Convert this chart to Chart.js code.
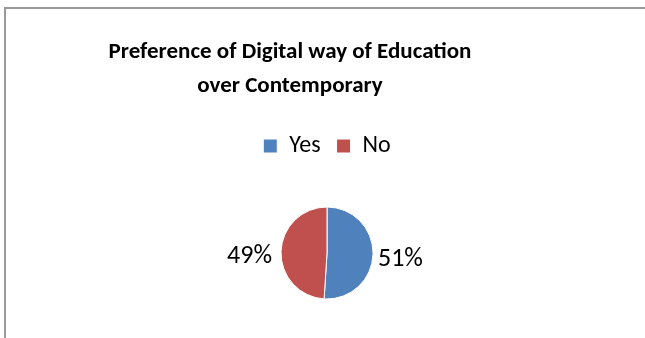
<!DOCTYPE html>
<html>
<head>
<meta charset="utf-8">
<script src="https://cdn.jsdelivr.net/npm/chart.js@4/dist/chart.umd.min.js"></script>
<style>
	html, body { margin: 0; padding: 0; background: #fff; overflow: hidden; }
	#wrap { position: relative; width: 645px; height: 338px; }
	#frame {
		position: absolute; left: 4px; top: 7px; width: 700px; height: 400px;
		border-left: 2px solid #999; border-top: 2px solid #999;
	}
	#chart { position: absolute; left: 0; top: 0; }
</style>
</head>
<body>
<div id="wrap">
	<div id="frame"></div>
	<canvas id="chart" width="645" height="338"></canvas>
</div>
<script>
const TITLE_LINES = ['Preference of Digital way of Education', 'over Contemporary']
const LABELS = ['Yes', 'No']
const SHARES = [51, 49]
const COLORS = ['#4F81BD', '#C0504D']

const FONT = 'Carlito, Lato, "Open Sans", sans-serif'

// heading sits a bit left of the plot centre, so it is drawn by hand
const heading = {
	id: 'heading',
	afterDraw: (chart) => {
		const ctx = chart.ctx
		ctx.save()
		ctx.font = 'bold 23px ' + FONT
		ctx.fillStyle = '#000'
		ctx.textAlign = 'center'
		ctx.textBaseline = 'middle'
		TITLE_LINES.forEach((line, i) => ctx.fillText(line, 290, 52 + i * 34))
		ctx.restore()
	},
}

// percentage labels just outside each slice
const sliceLabels = {
	id: 'sliceLabels',
	afterDatasetsDraw: (chart) => {
		const ctx = chart.ctx
		const meta = chart.getDatasetMeta(0)
		const data = chart.data.datasets[0].data
		ctx.save()
		ctx.font = '26px ' + FONT
		ctx.fillStyle = '#000'
		ctx.textBaseline = 'middle'
		meta.data.forEach((arc, i) => {
			const { x, y, startAngle, endAngle, outerRadius } = arc.getProps(['x', 'y', 'startAngle', 'endAngle', 'outerRadius'], true)
			const mid = (startAngle + endAngle) / 2
			const cos = Math.cos(mid)
			const r = outerRadius + (cos >= 0 ? 5 : 9)
			ctx.textAlign = cos >= 0 ? 'left' : 'right'
			ctx.fillText(data[i] + '%', x + cos * r, y + Math.sin(mid) * r + 5)
		})
		ctx.restore()
	},
}

const chart = new Chart(document.getElementById('chart'), {
	type: 'pie',
	data: {
		labels: LABELS,
		datasets: [{
			data: SHARES,
			backgroundColor: COLORS,
			borderColor: '#fff',
			borderWidth: 1,
			radius: 46,
		}],
	},
	options: {
		responsive: false,
		animation: false,
		layout: { padding: { top: 118, left: 9, right: 0, bottom: 0 } },
		plugins: {
			title: { display: false },
			tooltip: { enabled: false },
			legend: {
				position: 'top',
				labels: {
					boxWidth: 14,
					boxHeight: 14,
					padding: 16,
					color: '#000',
					font: { family: FONT, size: 24 },
				},
			},
		},
	},
	plugins: [heading, sliceLabels],
})
</script>
</body>
</html>
